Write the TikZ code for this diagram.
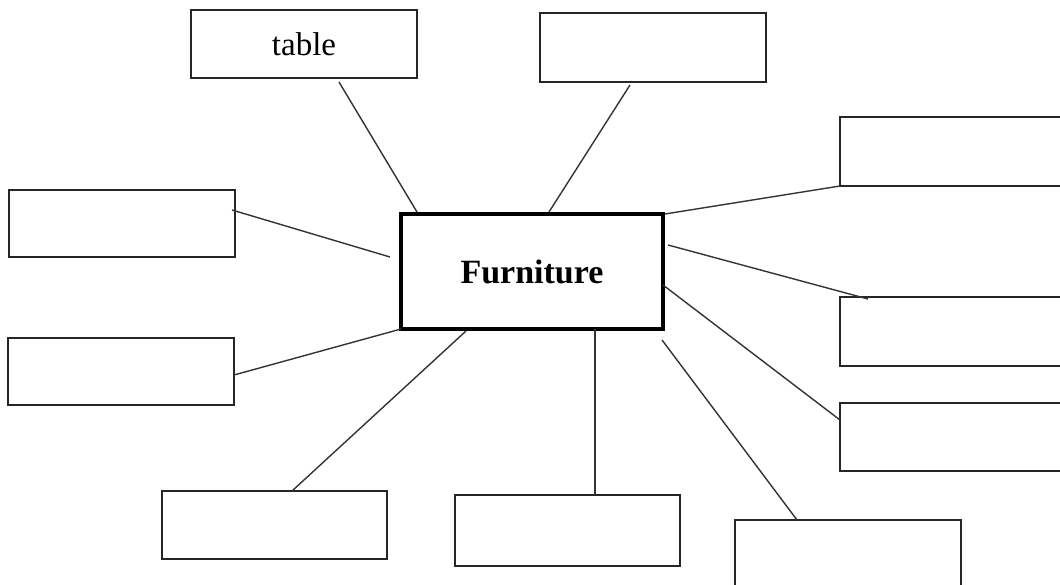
\documentclass[tikz,border=0pt]{standalone}
\usepackage{fontspec}
\setmainfont{Liberation Serif}
\usetikzlibrary{positioning}
\begin{document}
\begin{tikzpicture}[x=1pt,y=-1pt,
  box/.style={draw=black!85, line width=1.8pt, inner sep=0pt, outer sep=0pt, fill=white},
  hub/.style={draw=black, line width=4pt, inner sep=0pt, outer sep=0pt, fill=white,
    font=\fontsize{34}{38}\selectfont\bfseries},
  link/.style={draw=black!80, line width=1.4pt},
  lbl/.style={font=\fontsize{33}{37}\selectfont}]
\useasboundingbox (0,0) rectangle (1060,585);
\clip (0,0) rectangle (1060,585);
% boxes
\node[box, lbl, minimum width=226pt, minimum height=68pt] (tbl) at (304,44) {table};
\node[box, minimum width=226pt, minimum height=69pt] (tr) at (653,47.5) {};
\node[box, minimum width=230pt, minimum height=69pt] (ra) at (955,151.5) {};
\node[box, minimum width=226pt, minimum height=67pt] (la) at (122,223.5) {};
\node[box, minimum width=230pt, minimum height=69pt] (rb) at (955,331.5) {};
\node[box, minimum width=226pt, minimum height=67pt] (lb) at (121,371.5) {};
\node[box, minimum width=230pt, minimum height=68pt] (rc) at (955,437) {};
\node[box, minimum width=225pt, minimum height=68pt] (ba) at (274.5,525) {};
\node[box, minimum width=225pt, minimum height=71pt] (bb) at (567.5,530.5) {};
\node[box, minimum width=226pt, minimum height=75pt] (bc) at (848,557.5) {};
\node[hub, minimum width=262pt, minimum height=115pt] (f) at (532,271.5) {Furniture};
% connectors
\draw[link] ([xshift=35pt,yshift=-4pt]tbl.south) -- ([xshift=16pt,yshift=2pt]f.north west);
\draw[link] ([xshift=-23pt,yshift=-3pt]tr.south) -- ([xshift=17pt,yshift=2pt]f.north);
\draw[link] (ra.south west) -- ([xshift=2pt]f.north east);
\draw[link] ([xshift=-3pt,yshift=13.5pt]la.east) -- ([xshift=-11pt,yshift=14.5pt]f.west);
\draw[link] ([xshift=5pt,yshift=26.5pt]f.east) -- ([xshift=28pt,yshift=-2pt]rb.north west);
\draw[link] ([yshift=-3.5pt]lb.east) -- (f.south west);
\draw[link] ([yshift=-13.5pt]f.east) -- ([yshift=17pt]rc.west);
\draw[link] ([xshift=17.5pt]ba.north) -- ([xshift=65pt,yshift=-2pt]f.south west);
\draw[link] ([xshift=27.5pt]bb.north) -- ([xshift=63pt]f.south);
\draw[link] ([xshift=62pt]bc.north west) -- ([xshift=-1pt,yshift=-11pt]f.south east);
\end{tikzpicture}
\end{document}
